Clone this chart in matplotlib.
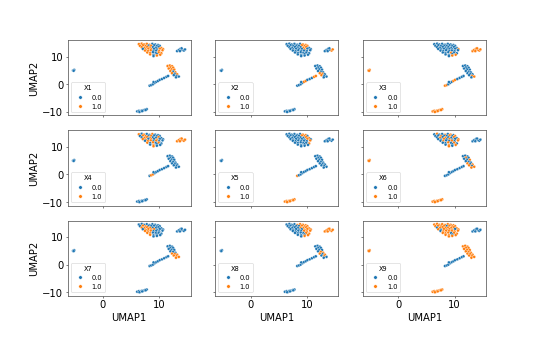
import matplotlib.pyplot as plt
from matplotlib.lines import Line2D

# UMAP embedding; the same points sit in every panel.
# top cluster, row by row (top to bottom, left to right)
top_x = [6.4, 6.9, 7.3, 7.8, 8.3, 8.8, 9.3, 9.8,
         6.6, 7.1, 7.6, 8.1, 8.6, 9.1, 9.6, 10.1,
         6.9, 7.4, 7.9, 8.4, 8.9, 9.4, 9.9, 10.4,
         7.1, 7.6, 8.1, 8.6, 9.1, 9.6, 10.1, 10.7,
         7.5, 8.0, 8.5, 9.0, 9.5, 10.0, 10.6,
         7.9, 8.4, 8.9, 9.4, 9.9, 10.4,
         8.4, 9.0, 9.6, 10.2,
         9.0, 9.6]
top_y = [14.5, 14.7, 14.4, 14.6, 14.3, 14.6, 14.4, 14.2,
         13.9, 14.1, 13.8, 14.0, 13.9, 14.1, 13.8, 13.9,
         13.4, 13.2, 13.5, 13.3, 13.4, 13.2, 13.5, 13.1,
         12.8, 12.6, 12.9, 12.7, 12.8, 12.6, 12.9, 12.7,
         12.2, 12.0, 12.3, 12.1, 12.2, 12.0, 12.3,
         11.5, 11.3, 11.6, 11.4, 11.5, 11.2,
         10.8, 10.6, 10.9, 10.7,
         10.2, 10.4]
# small cluster top right
right_x = [13.2, 13.5, 13.8, 14.1, 14.4, 13.7, 14.0, 14.6]
right_y = [12.0, 12.4, 12.8, 12.5, 12.2, 12.0, 13.0, 12.6]
# cluster middle right
mid_x = [11.5, 11.9, 12.3, 12.0, 12.5, 11.7, 12.2, 12.7, 12.0,
         12.5, 12.9, 12.3, 12.8, 13.2, 12.6, 13.1, 13.5, 13.0]
mid_y = [6.6, 6.8, 6.5, 6.1, 6.0, 5.7, 5.4, 5.3, 4.8,
         4.6, 4.3, 4.0, 3.8, 3.6, 3.3, 3.0, 2.8, 2.5]
# chain going down-left
chain_x = [8.3, 8.6, 8.9, 9.2, 9.5, 9.8, 10.1, 10.5, 10.9, 11.3, 11.6, 9.0]
chain_y = [-0.5, -0.3, 0.0, 0.5, 0.9, 1.2, 1.6, 1.9, 2.3, 2.7, 3.0, 0.8]
# bottom cluster
bottom_x = [6.1, 6.4, 6.7, 6.9, 7.2, 7.5, 7.8, 6.5, 7.0, 7.6]
bottom_y = [-9.8, -9.6, -9.8, -9.5, -9.4, -9.2, -9.0, -10.0, -9.7, -9.3]
# lone cluster on the left
lone_x = [-5.3, -5.1, -5.2]
lone_y = [5.0, 5.2, 4.9]

umap1 = top_x + right_x + mid_x + chain_x + bottom_x + lone_x
umap2 = top_y + right_y + mid_y + chain_y + bottom_y + lone_y

# feature values (0/1) per point, same order:
# top rows | right | mid | chain | bottom | lone
features = {
    'X1': ["11111000 11101000 11110001 01110011 1110011 110011 1001 01",
           "00000000", "111111111011010000", "000000000000",
           "0000000000", "000"],
    'X2': ["00000011 00000111 00000110 00000100 0000000 000000 0000 00",
           "00001001", "000000000001101000", "000011000110",
           "0000000000", "000"],
    'X3': ["00000000 00000000 00000000 00000001 0000000 000100 0001 01",
           "11111111", "000000000000000110", "110001100000",
           "1111111111", "111"],
    'X4': ["10100100 01101000 01110010 11010100 0110100 101010 0100 10",
           "11111111", "000000000000000000", "011000000000",
           "0000000000", "000"],
    'X5': ["00000011 00000110 00000011 00000010 0000001 000001 0000 00",
           "00000000", "000000000000000000", "100000000000",
           "1111111111", "000"],
    'X6': ["01001010 00100101 01010010 00101001 0100101 001010 0101 10",
           "00000000", "000100010001011011", "000000000000",
           "1111111111", "111"],
    'X7': ["00000000 01100000 11110000 01111000 1110000 110000 1000 00",
           "00000000", "000000000001111111", "000000000000",
           "0000000000", "000"],
    'X8': ["00001111 00000111 00001111 00000111 0000111 000011 0001 01",
           "11111111", "000000000111010100", "000000000000",
           "0000000000", "000"],
    'X9': ["11111111 11110111 01111111 10111101 0111111 111011 1101 11",
           "00000000", "111111111111111111", "000000000000",
           "1111111111", "111"],
}

blue = '#1f77b4'
orange = '#ff7f0e'

fig, axes = plt.subplots(3, 3, figsize=(12, 7.52), sharex=True, sharey=True)
fig.subplots_adjust(bottom=0.125)

for ax, (name, parts) in zip(axes.flat, features.items()):
    vals = [int(c) for c in ''.join(parts).replace(' ', '')]
    cols = [orange if v == 1 else blue for v in vals]
    ax.scatter(umap1, umap2, c=cols, s=22, edgecolors='white', linewidths=0.5)
    handles = [Line2D([], [], marker='o', ls='', color=blue, mec='white', mew=0.5, ms=5.5),
               Line2D([], [], marker='o', ls='', color=orange, mec='white', mew=0.5, ms=5.5)]
    ax.legend(handles, ['0.0', '1.0'], title=name, loc='lower left', fontsize=10.5, title_fontsize=10.5)
    ax.set_xticks([0, 10])
    ax.set_yticks([-10, 0, 10])
    ax.tick_params(labelsize=16)
    for sp in ax.spines.values():
        sp.set_edgecolor('#555555')
        sp.set_linewidth(1.2)

for ax in axes[:, 0]:
    ax.set_ylabel('UMAP2', fontsize=16)
for ax in axes[-1, :]:
    ax.set_xlabel('UMAP1', fontsize=16)

fig.savefig('out.png', dpi=45)
